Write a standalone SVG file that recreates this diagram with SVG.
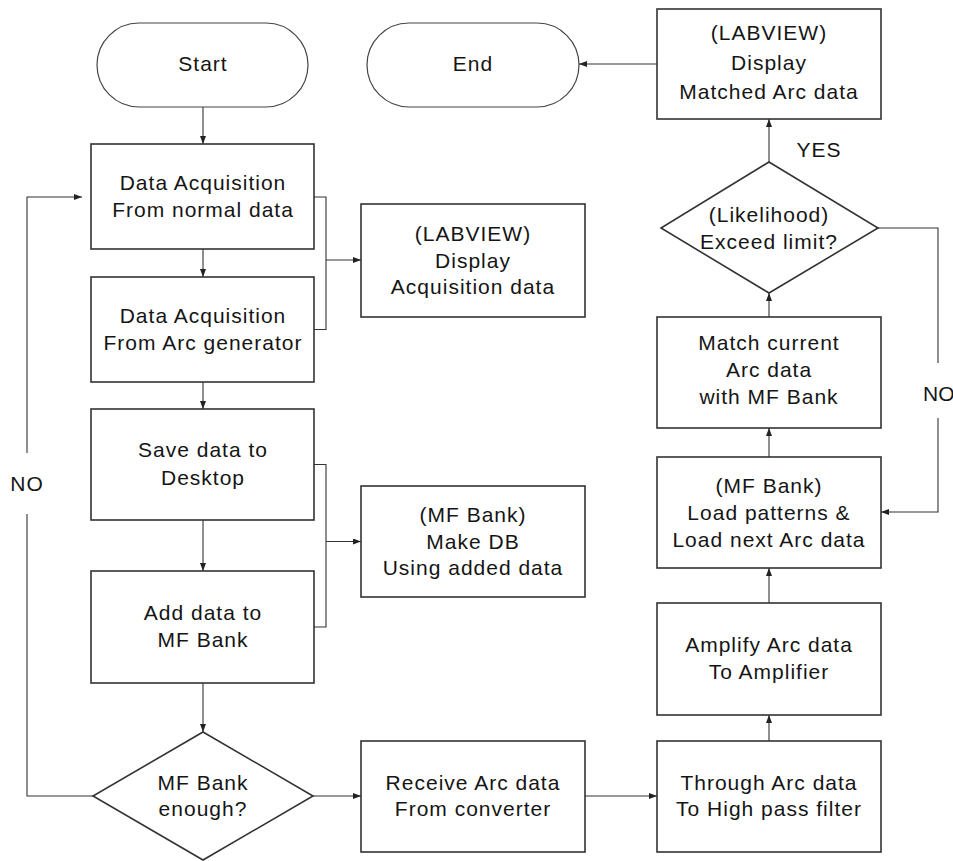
<svg xmlns="http://www.w3.org/2000/svg" width="953" height="861" viewBox="0 0 953 861">
<defs>
<marker id="ah" markerWidth="8" markerHeight="6" refX="8" refY="3" orient="auto" markerUnits="userSpaceOnUse">
<path d="M0,0 L8,3 L0,6 Z" fill="#222"/>
</marker>
<style>
.n{fill:#fff;stroke:#333;stroke-width:1.6}
.t{fill:#fff;stroke:#444;stroke-width:1.2}
text{font-family:"Liberation Sans",Arial,sans-serif;font-size:21px;letter-spacing:1px;fill:#151515;text-anchor:middle}
.c{fill:none;stroke:#333;stroke-width:1.1}
.a{marker-end:url(#ah)}
</style>
</defs>
<rect width="953" height="861" fill="#fff"/>
<g id="connectors">
<path class="c a" d="M203,107 V144"/>
<path class="c a" d="M203,249 V277"/>
<path class="c a" d="M203,382 V409"/>
<path class="c a" d="M203,520 V571"/>
<path class="c a" d="M203,683 V732"/>
<path class="c" d="M314,197 H326 V329.5 H314"/>
<path class="c a" d="M326,260 H361"/>
<path class="c" d="M314,464.5 H326 V627 H314"/>
<path class="c a" d="M326,541.5 H361"/>
<path class="c" d="M93,796 H27 V514"/>
<path class="c a" d="M27,453 V197 H82"/>
<path class="c a" d="M312,796 H361"/>
<path class="c a" d="M585,796 H657"/>
<path class="c a" d="M769,741 V715"/>
<path class="c a" d="M769,603 V568"/>
<path class="c a" d="M769,457 V428"/>
<path class="c a" d="M769,317 V293"/>
<path class="c a" d="M769,162 V119"/>
<path class="c a" d="M657,64 H579"/>
<path class="c" d="M878,228 H938 V363"/>
<path class="c a" d="M938,418 V512 H881"/>
<text x="27" y="491">NO</text>
<text x="819" y="157">YES</text>
<text x="923" y="401" style="text-anchor:start;letter-spacing:0">NO</text>
</g>
<g id="start"><rect class="t" x="97" y="23" width="211" height="84" rx="42"/><text x="203" y="71">Start</text></g>
<g id="end"><rect class="t" x="367" y="23" width="212" height="84" rx="42"/><text x="473" y="71">End</text></g>
<g id="acq-normal"><rect class="n" x="91" y="144" width="223" height="105"/><text x="203" y="190">Data Acquisition</text><text x="203" y="217">From normal data</text></g>
<g id="acq-arc"><rect class="n" x="91" y="277" width="223" height="105"/><text x="203" y="323">Data Acquisition</text><text x="203" y="350">From Arc generator</text></g>
<g id="save"><rect class="n" x="91" y="409" width="223" height="111"/><text x="203" y="457">Save data to</text><text x="203" y="485">Desktop</text></g>
<g id="add"><rect class="n" x="91" y="571" width="223" height="112"/><text x="203" y="620">Add data to</text><text x="203" y="647">MF Bank</text></g>
<g id="enough"><path class="n" d="M203,732 L313,796 L203,860 L93,796 Z"/><text x="203" y="790">MF Bank</text><text x="203" y="816">enough?</text></g>
<g id="display-acq"><rect class="n" x="361" y="204" width="224" height="113"/><text x="473" y="241">(LABVIEW)</text><text x="473" y="268">Display</text><text x="473" y="294">Acquisition data</text></g>
<g id="make-db"><rect class="n" x="361" y="486" width="224" height="111"/><text x="473" y="522">(MF Bank)</text><text x="473" y="549">Make DB</text><text x="473" y="575">Using added data</text></g>
<g id="receive"><rect class="n" x="361" y="741" width="224" height="111"/><text x="473" y="790">Receive Arc data</text><text x="473" y="816">From converter</text></g>
<g id="hpf"><rect class="n" x="657" y="741" width="224" height="111"/><text x="769" y="790">Through Arc data</text><text x="769" y="816">To High pass filter</text></g>
<g id="amplify"><rect class="n" x="657" y="603" width="224" height="112"/><text x="769" y="652">Amplify Arc data</text><text x="769" y="679">To Amplifier</text></g>
<g id="load"><rect class="n" x="657" y="457" width="224" height="111"/><text x="769" y="493">(MF Bank)</text><text x="769" y="520">Load patterns &amp;</text><text x="769" y="547">Load next Arc data</text></g>
<g id="match"><rect class="n" x="657" y="317" width="224" height="111"/><text x="769" y="350">Match current</text><text x="769" y="377">Arc data</text><text x="769" y="404">with MF Bank</text></g>
<g id="likelihood"><path class="n" d="M769,162 L878,228 L769,293 L661,228 Z"/><text x="769" y="222">(Likelihood)</text><text x="769" y="249">Exceed limit?</text></g>
<g id="display-match"><rect class="n" x="657" y="9" width="224" height="110"/><text x="769" y="40">(LABVIEW)</text><text x="769" y="70">Display</text><text x="769" y="99">Matched Arc data</text></g>
</svg>
